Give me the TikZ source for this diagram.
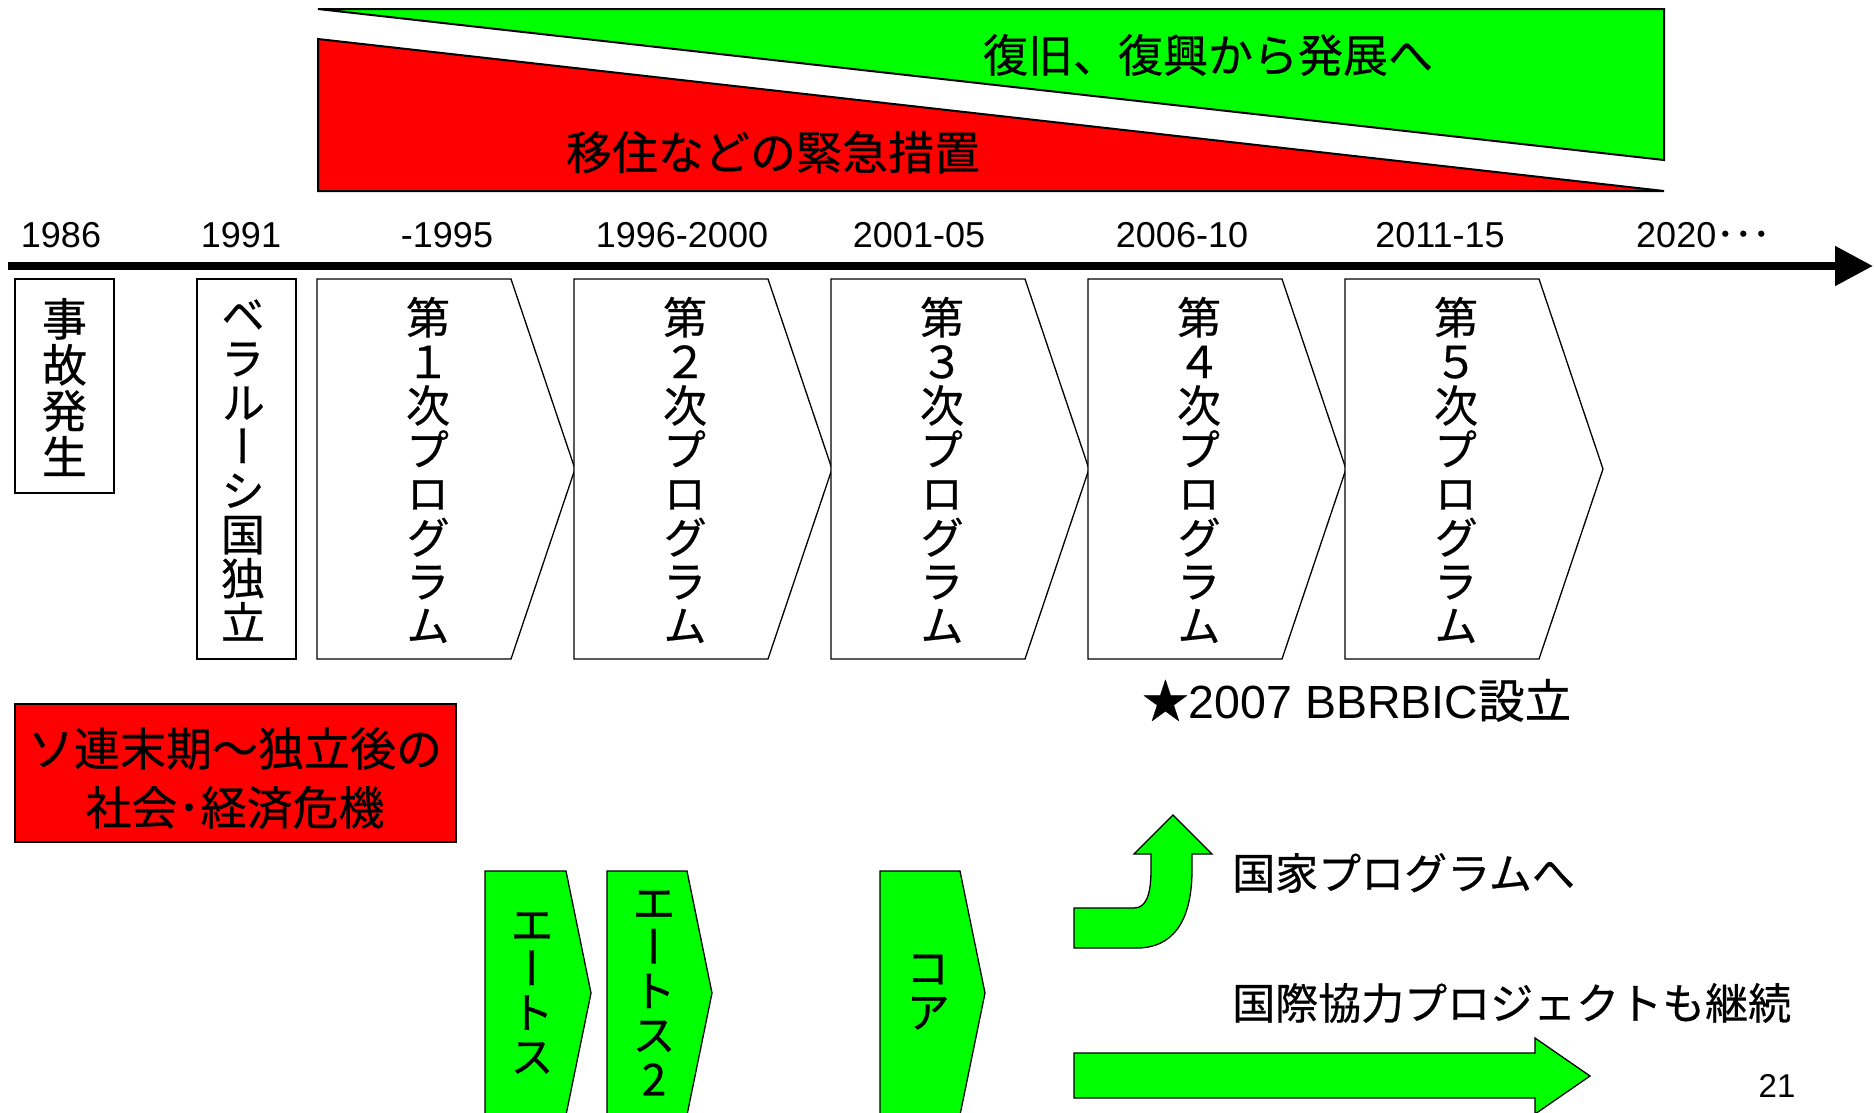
\documentclass[tikz,border=0pt]{standalone}
\usepackage{fontspec}
\usepackage{graphicx}
\usetikzlibrary{arrows.meta}
\setmainfont{Liberation Sans}
\newfontfamily\jp[FakeBold=0.5]{Noto Sans CJK JP}
\newfontfamily\jpv[RawFeature=+vert,FakeBold=0.5]{Noto Sans CJK JP}
\definecolor{vgreen}{RGB}{0,255,0}
\definecolor{vred}{RGB}{255,0,0}
\tikzset{
  tri/.style={draw=black, line width=2pt, line join=miter},
  boxline/.style={draw=black, line width=1.8pt},
  chev/.style={draw=black, line width=1.3pt, line join=miter},
  vstack/.style={align=center, inner sep=0pt,
    font=\jpv\fontsize{44}{44}\selectfont},
  vstackb/.style={align=center, inner sep=0pt,
    font=\jpv\fontsize{45}{46}\selectfont},
  bigjp/.style={inner sep=0pt, font=\jp\fontsize{45}{45}\selectfont},
  yearlbl/.style={inner sep=0pt, font=\fontsize{36}{36}\selectfont},
  sidejp/.style={inner sep=0pt, anchor=west, font=\jp\fontsize{43}{44}\selectfont},
}
\begin{document}
\lineskiplimit=-100pt
\begin{tikzpicture}[x=1pt,y=-1pt]
\useasboundingbox (0,0) rectangle (1874,1112);
\clip (0,0) rectangle (1874,1112);
\fill[white] (0,0) rectangle (1874,1112);

% top triangles
\draw[tri, fill=vgreen] (318,9) -- (1664,9) -- (1664,160) -- cycle;
\draw[tri, fill=vred] (318,39) -- (1664,191) -- (318,191) -- cycle;
\node[bigjp] (tgreen) at (1208,55) {復旧、復興から発展へ};
\node[bigjp, font=\jp\fontsize{46}{46}\selectfont] (tred) at (773,152) {移住などの緊急措置};

% years
\node[yearlbl] (y1) at (61,235) {1986};
\node[yearlbl] (y2) at (241,235) {1991};
\node[yearlbl] (y3) at (447,235) {-1995};
\node[yearlbl] (y4) at (682,235) {1996-2000};
\node[yearlbl] (y5) at (919,235) {2001-05};
\node[yearlbl] (y6) at (1182,235) {2006-10};
\node[yearlbl] (y7) at (1440,235) {2011-15};
\node[yearlbl, anchor=west] (y8) at (1636,235) {2020{\jp ･･･}};

% axis
\coordinate (axL) at (8,266);
\coordinate (axR) at (1873,266);
\draw[line width=8pt, -{Triangle[length=38pt,width=38pt]}] (axL) -- (axR);

% boxes
\draw[boxline] (15,279) rectangle (114,493);
\node[vstackb] (acc) at (64.5,387) {事\\故\\発\\生};
\draw[boxline] (197,279) rectangle (296,659);
\node[vstack] (bel) at (243,470) {ベ\\ラ\\ル\\ー\\シ\\国\\独\\立};

% programs
\foreach \d [count=\i from 0] in {１,２,３,４,５} {
  \pgfmathsetmacro{\L}{317+257*\i}
  \draw[chev, fill=white] (\L,279) -- ({\L+194},279) -- ({\L+258},469) -- ({\L+194},659) -- (\L,659) -- cycle;
  \node[vstack] (pt\i) at ({\L+111},470) {第\\\d\\次\\プ\\ロ\\グ\\ラ\\ム};
}

\node[inner sep=0pt, anchor=base west, font=\fontsize{46.5}{46.5}\selectfont] (bbr) at (1142,718) {{\jp ★}2007 BBRBIC{\jp 設立}};

% red crisis box
\draw[boxline, fill=vred] (15,704) rectangle (456,842);
\node[align=center, inner sep=0pt, font=\jp\fontsize{46}{59}\selectfont] (crisis) at (235,778) {ソ連末期～独立後の\\社会･経済危機};

% green chevrons
\draw[chev, fill=vgreen] (485,871) -- (566,871) -- (591,993) -- (566,1115) -- (485,1115) -- cycle;
\node[vstack] (ethos1) at (532,993) {エ\\ー\\ト\\ス};
\draw[chev, fill=vgreen] (607,871) -- (687,871) -- (712,993) -- (687,1115) -- (607,1115) -- cycle;
\node[vstack] (ethos2) at (654,993) {エ\\ー\\ト\\ス\\2};
\draw[chev, fill=vgreen] (880,871) -- (960,871) -- (985,993) -- (960,1115) -- (880,1115) -- cycle;
\node[vstack] (core) at (928,992) {コ\\ア};

% curved arrow
\draw[chev, fill=vgreen] (1074,908) -- (1134,908) .. controls (1146,908) and (1151,895) .. (1151,870) -- (1151,854) -- (1134,854) -- (1173,815) -- (1212,854) -- (1192,854) -- (1192,870) .. controls (1192,925) and (1170,948) .. (1137,948) -- (1074,948) -- cycle;
\node[sidejp] (nat) at (1232,873) {国家プログラムへ};

% straight arrow
\draw[chev, fill=vgreen] (1074,1053) -- (1535,1053) -- (1535,1038) -- (1590,1076) -- (1535,1114) -- (1535,1098) -- (1074,1098) -- cycle;
\node[sidejp] (intl) at (1232,1003) {国際協力プロジェクトも継続};

\node[inner sep=0pt, font=\fontsize{33}{33}\selectfont] (pg) at (1777,1086) {21};
\end{tikzpicture}
\end{document}
